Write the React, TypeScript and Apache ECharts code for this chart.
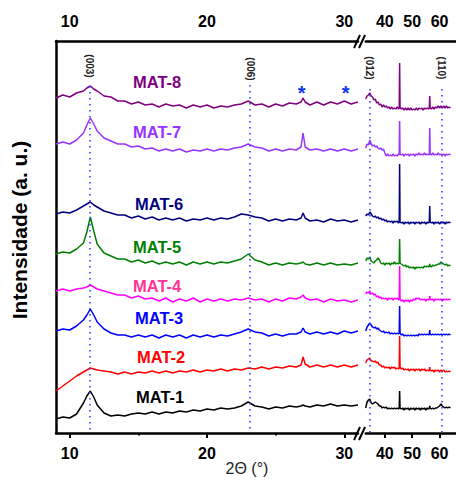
import { useEffect, useRef } from "react";
import * as echarts from "echarts";

// 2θ sampling positions (degrees)
const leftX = [9, 9.5, 10, 10.5, 11, 11.25, 11.5, 11.75, 12, 12.5, 13, 13.5, 14, 14.5, 15, 15.5, 16, 16.5, 17, 17.5, 18, 18.5, 19, 19.5, 20, 20.5, 21, 21.5, 22, 22.5, 23, 23.5, 24, 24.5, 25, 25.5, 26, 26.5, 26.85, 27, 27.15, 27.5, 28, 28.5, 29, 29.5, 30, 30.5, 31];
const rightX = [33, 33.5, 34, 34.5, 35, 35.5, 36, 36.5, 37, 37.5, 38, 38.5, 39, 39.5, 40, 40.5, 41, 41.5, 42, 42.5, 43, 43.5, 44, 44.5, 45, 45.25, 45.4, 45.55, 46, 46.5, 47, 47.5, 48, 48.5, 49, 49.5, 50, 50.5, 51, 51.5, 52, 52.5, 53, 53.5, 54, 54.5, 55, 55.5, 56, 56.25, 56.4, 56.55, 57, 57.5, 58, 58.5, 59, 59.5, 60, 60.5, 61, 61.5, 62, 62.5, 63, 63.5, 64];

// Stacked intensities (a.u., with vertical offsets) – left segment (9–31°)
const mat8L = [335, 338, 336, 340, 342, 345, 347, 344, 342, 337, 336, 332, 332, 329, 331, 328, 329, 326, 329, 327, 328, 325, 328, 326, 328, 325, 327, 326, 328, 329, 332, 328, 329, 326, 329, 327, 330, 329, 331, 335, 331, 328, 331, 328, 331, 329, 332, 329, 331];
const mat7L = [289, 291, 289, 293, 300, 308, 315, 309, 302, 295, 292, 289, 289, 286, 287, 284, 285, 282, 284, 282, 284, 281, 283, 282, 284, 282, 284, 283, 285, 286, 289, 286, 285, 282, 284, 282, 284, 283, 286, 300, 286, 283, 284, 282, 284, 282, 284, 282, 284];
const mat6L = [219, 221, 220, 223, 227, 229, 231, 228, 226, 222, 220, 218, 218, 215, 217, 214, 216, 213, 215, 213, 215, 212, 214, 213, 215, 213, 215, 214, 216, 219, 218, 216, 215, 212, 214, 212, 214, 213, 215, 220, 215, 212, 213, 211, 214, 212, 213, 211, 213];
const mat5L = [179, 181, 180, 184, 190, 201, 216, 202, 189, 180, 177, 174, 174, 171, 173, 170, 172, 169, 171, 169, 171, 168, 171, 169, 171, 169, 171, 170, 172, 174, 179, 173, 171, 168, 170, 168, 170, 169, 170, 171, 169, 168, 170, 168, 170, 168, 169, 168, 170];
const mat4L = [142, 144, 142, 144, 145, 146, 148, 146, 144, 142, 140, 138, 138, 135, 137, 134, 135, 132, 135, 131, 134, 132, 135, 131, 134, 132, 134, 132, 134, 133, 135, 133, 134, 131, 134, 132, 135, 134, 136, 138, 135, 133, 134, 131, 134, 132, 133, 131, 133];
const mat3L = [102, 104, 103, 107, 113, 118, 124, 118, 111, 104, 100, 98, 98, 96, 98, 96, 98, 95, 98, 96, 98, 95, 98, 96, 98, 96, 98, 97, 99, 101, 104, 101, 100, 97, 99, 97, 99, 99, 101, 105, 101, 99, 101, 99, 101, 99, 102, 100, 102];
const mat2L = [42, 47, 52, 57, 61, 63, 65, 64, 63, 62, 61, 59, 61, 59, 61, 60, 62, 60, 62, 60, 62, 61, 63, 61, 63, 62, 64, 62, 64, 63, 65, 64, 66, 64, 66, 65, 67, 66, 68, 76, 69, 66, 68, 66, 68, 66, 68, 66, 68];
const mat1L = [14, 16, 15, 19, 30, 37, 42, 36, 28, 20, 17, 18, 17, 19, 20, 19, 21, 19, 21, 20, 22, 21, 23, 22, 24, 23, 25, 24, 25, 27, 31, 27, 26, 24, 26, 25, 27, 26, 27, 28, 27, 26, 28, 27, 29, 27, 28, 27, 28];

// Right segment (33–64°)
const mat8R = [334, 337, 338, 340, 337, 336, 333, 334, 330, 331, 328, 329, 326, 328, 326, 327, 325, 326, 324, 326, 324, 325, 324, 326, 324, 325, 370, 326, 324, 325, 323, 325, 323, 325, 323, 325, 323, 324, 323, 325, 323, 325, 324, 325, 323, 325, 324, 325, 324, 325, 337, 325, 324, 326, 324, 326, 325, 327, 325, 327, 325, 327, 325, 327, 325, 326, 325];
const mat7R = [285, 289, 288, 293, 289, 287, 288, 286, 287, 285, 284, 285, 283, 284, 280, 277, 279, 277, 278, 277, 279, 277, 278, 277, 279, 278, 312, 279, 278, 279, 277, 279, 278, 279, 277, 279, 278, 279, 277, 279, 278, 280, 278, 279, 278, 280, 278, 279, 278, 279, 305, 279, 278, 280, 278, 279, 278, 280, 278, 279, 278, 279, 277, 279, 278, 279, 278];
const mat6R = [217, 219, 218, 221, 219, 217, 216, 217, 215, 216, 214, 215, 213, 214, 212, 213, 211, 212, 211, 212, 210, 212, 211, 212, 210, 211, 269, 211, 210, 211, 209, 211, 210, 211, 209, 211, 210, 211, 209, 211, 210, 211, 209, 211, 210, 211, 209, 211, 210, 211, 227, 211, 210, 211, 209, 211, 210, 211, 209, 211, 210, 211, 209, 211, 210, 211, 210];
const mat5R = [172, 175, 174, 176, 172, 171, 170, 172, 173, 175, 173, 170, 169, 170, 168, 170, 169, 170, 168, 170, 169, 171, 169, 170, 169, 170, 194, 170, 169, 168, 167, 168, 166, 167, 165, 166, 165, 166, 164, 166, 165, 166, 165, 166, 165, 167, 166, 167, 166, 167, 169, 167, 166, 168, 167, 168, 168, 169, 169, 171, 170, 169, 168, 169, 167, 168, 167];
const mat4R = [139, 141, 140, 142, 139, 140, 138, 139, 136, 137, 135, 136, 134, 135, 134, 135, 133, 135, 134, 135, 133, 135, 134, 135, 133, 134, 167, 134, 132, 133, 131, 133, 132, 133, 131, 133, 132, 134, 133, 135, 134, 135, 133, 134, 133, 134, 132, 134, 133, 134, 137, 134, 133, 134, 132, 134, 133, 134, 133, 134, 132, 134, 133, 134, 133, 134, 133];
const mat3R = [102, 106, 108, 110, 108, 106, 105, 106, 104, 105, 103, 102, 101, 102, 100, 101, 100, 101, 99, 100, 99, 100, 99, 100, 99, 100, 127, 100, 98, 99, 97, 98, 97, 98, 97, 98, 97, 98, 97, 98, 97, 99, 98, 99, 98, 99, 98, 99, 98, 99, 103, 99, 98, 99, 98, 99, 98, 99, 98, 99, 98, 99, 98, 99, 98, 99, 98];
const mat2R = [70, 73, 74, 75, 72, 72, 71, 72, 70, 71, 68, 68, 66, 67, 65, 66, 65, 66, 64, 66, 65, 66, 64, 65, 64, 65, 97, 66, 64, 65, 63, 64, 63, 64, 62, 64, 63, 64, 62, 64, 63, 64, 62, 64, 63, 64, 62, 63, 62, 63, 66, 63, 62, 63, 61, 63, 62, 63, 61, 63, 62, 63, 61, 62, 61, 62, 61];
const mat1R = [25, 31, 33, 34, 30, 29, 30, 31, 30, 29, 27, 27, 25, 26, 25, 26, 24, 25, 24, 25, 24, 25, 24, 25, 24, 25, 42, 25, 24, 25, 23, 25, 24, 25, 23, 25, 24, 25, 23, 25, 24, 25, 23, 25, 24, 25, 23, 25, 24, 25, 27, 25, 24, 25, 24, 25, 25, 26, 27, 29, 27, 26, 25, 26, 25, 26, 25];

const sampleNames = ["MAT-1", "MAT-2", "MAT-3", "MAT-4", "MAT-5", "MAT-6", "MAT-7", "MAT-8"];
const leftSets = [mat1L, mat2L, mat3L, mat4L, mat5L, mat6L, mat7L, mat8L];
const rightSets = [mat1R, mat2R, mat3R, mat4R, mat5R, mat6R, mat7R, mat8R];
const lineColors = ["#000000", "#ff0000", "#0000ff", "#ff00ff", "#008000", "#000080", "#9933ff", "#800080"];
const labelColors = ["#000000", "#ff0000", "#0000ff", "#ff3399", "#008000", "#000080", "#9933ff", "#800080"];
const labelPos = [[136, 397], [137, 357], [135, 318], [133, 286], [133, 247], [135, 204], [133, 132], [133, 82]];

const peakLabels = ["(003)", "(006)", "(012)", "(110)"];
const peakPositions = [11.45, 23.1, 34.5, 60.9];
const peakLineTop = [347, 348, 344, 344];
const peakLabelPos = [[89, 66], [250, 69], [369, 68], [441, 68]];

const starPositions = [26.9, 30.1];

const leftTicks = [10, 20, 30];
const leftMinorTicks = [15, 25];
const rightTicks = [40, 50, 60];

const FONT = '"Liberation Sans", Arial, Helvetica, sans-serif';

export default function App() {
  const ref = useRef<HTMLDivElement>(null);
  useEffect(() => {
    if (!ref.current) return;
    const chart = echarts.init(ref.current, undefined, { renderer: "svg" });

    const GL = 56, GT = 41, GH = 392;
    const leftMin = 9, leftMax = 31, leftW = 302;
    const rightMin = 33, rightMax = 66, rightLeft = 365.7, rightW = 96;

    const axisLineStyle = { color: "#000", width: 2.5 };
    const labelStyle = { color: "#000", fontWeight: "bold" as const, fontSize: 16, fontFamily: FONT };

    const xAxes: any[] = [
      { gridIndex: 0, type: "value", position: "bottom", min: leftMin, max: leftMax,
        axisLine: { show: true, lineStyle: axisLineStyle },
        axisTick: { show: true, length: 5, lineStyle: { color: "#000", width: 2 }, customValues: leftTicks },
        axisLabel: { ...labelStyle, margin: 12, customValues: leftTicks }, splitLine: { show: false } },
      { gridIndex: 1, type: "value", position: "bottom", min: rightMin, max: rightMax,
        axisLine: { show: true, lineStyle: axisLineStyle },
        axisTick: { show: true, length: 5, lineStyle: { color: "#000", width: 2 }, customValues: rightTicks },
        axisLabel: { ...labelStyle, margin: 12, customValues: rightTicks }, splitLine: { show: false } },
      { gridIndex: 0, type: "value", position: "top", min: leftMin, max: leftMax,
        axisLine: { show: true, lineStyle: axisLineStyle }, axisTick: { show: false },
        axisLabel: { ...labelStyle, margin: 12, customValues: leftTicks }, splitLine: { show: false } },
      { gridIndex: 1, type: "value", position: "top", min: rightMin, max: rightMax,
        axisLine: { show: true, lineStyle: axisLineStyle }, axisTick: { show: false },
        axisLabel: { ...labelStyle, margin: 12, customValues: rightTicks }, splitLine: { show: false } },
      { gridIndex: 0, type: "value", position: "bottom", min: leftMin, max: leftMax,
        axisLine: { show: false },
        axisTick: { show: true, length: 2.5, lineStyle: { color: "#000", width: 2 }, customValues: leftMinorTicks },
        axisLabel: { show: false }, splitLine: { show: false } },
    ];

    const yAxes: any[] = [
      { gridIndex: 0, type: "value", min: 0, max: GH, axisLine: { show: true, lineStyle: axisLineStyle },
        axisTick: { show: false }, axisLabel: { show: false }, splitLine: { show: false } },
      { gridIndex: 1, type: "value", min: 0, max: GH, axisLine: { show: false },
        axisTick: { show: false }, axisLabel: { show: false }, splitLine: { show: false } },
    ];

    const dotted = { color: "#3344ff", width: 1.6, type: [1.6, 4.4] as any };
    const series: any[] = [];
    sampleNames.forEach((name, i) => {
      const left: any = {
        name, type: "line", xAxisIndex: 0, yAxisIndex: 0, showSymbol: false, symbol: "none",
        data: leftX.map((x, k) => [x, leftSets[i][k]]),
        lineStyle: { color: lineColors[i], width: 1.5 }, z: 3,
      };
      const right: any = {
        name, type: "line", xAxisIndex: 1, yAxisIndex: 1, showSymbol: false, symbol: "none",
        data: rightX.map((x, k) => [x, rightSets[i][k]]),
        lineStyle: { color: lineColors[i], width: 1.5 }, z: 3,
      };
      if (i === 0) {
        left.markLine = {
          silent: true, symbol: ["none", "none"], label: { show: false }, lineStyle: dotted,
          data: [0, 1].map((p) => [{ coord: [peakPositions[p], peakLineTop[p]] }, { coord: [peakPositions[p], 0] }]),
        };
        right.markLine = {
          silent: true, symbol: ["none", "none"], label: { show: false }, lineStyle: dotted,
          data: [2, 3].map((p) => [{ coord: [peakPositions[p], peakLineTop[p]] }, { coord: [peakPositions[p], 0] }]),
        };
      }
      series.push(left, right);
    });

    const pxLeft = (v: number) => GL + ((v - leftMin) / (leftMax - leftMin)) * leftW;

    const graphics: any[] = [];
    sampleNames.forEach((name, i) => {
      graphics.push({
        type: "text", x: labelPos[i][0], y: labelPos[i][1], z: 10,
        style: { text: name, fill: labelColors[i], font: `bold 16.5px ${FONT}`, textAlign: "left", textVerticalAlign: "middle" },
      });
    });
    peakLabels.forEach((t, i) => {
      graphics.push({
        type: "text", x: peakLabelPos[i][0], y: peakLabelPos[i][1], rotation: -Math.PI / 2, z: 10,
        style: { text: t, fill: "#222", font: `bold 10px ${FONT}`, textAlign: "center", textVerticalAlign: "middle" },
      });
    });
    starPositions.forEach((s) => {
      graphics.push({
        type: "text", x: pxLeft(s), y: 93, z: 10,
        style: { text: "*", fill: "#1133ee", font: `bold 20px ${FONT}`, textAlign: "center", textVerticalAlign: "middle" },
      });
    });
    graphics.push({
      type: "text", x: 247, y: 468, z: 10,
      style: { text: "2Θ (°)", fill: "#222", font: `16px ${FONT}`, textAlign: "center", textVerticalAlign: "middle" },
    });
    graphics.push({
      type: "text", x: 19, y: 230, rotation: Math.PI / 2, z: 10,
      style: { text: "Intensidade (a. u.)", fill: "#000", font: `bold 21px ${FONT}`, textAlign: "center", textVerticalAlign: "middle" },
    });
    // axis break marks
    [[354, 48, 360, 35], [359, 48, 365, 35], [354, 440, 360, 427], [359, 440, 365, 427]].forEach((l) => {
      graphics.push({
        type: "line", z: 10, shape: { x1: l[0], y1: l[1], x2: l[2], y2: l[3] },
        style: { stroke: "#000", lineWidth: 2 },
      });
    });

    chart.setOption({
      animation: false,
      backgroundColor: "#ffffff",
      grid: [
        { left: GL, top: GT, width: leftW, height: GH, containLabel: false },
        { left: rightLeft, top: GT, width: rightW, height: GH, containLabel: false },
      ],
      xAxis: xAxes,
      yAxis: yAxes,
      series,
      graphic: graphics,
    });
    return () => chart.dispose();
  }, []);
  return (
    <div
      ref={ref}
      style={{ position: "fixed", left: 0, top: 0, width: 456, height: 482, background: "#fff" }}
    />
  );
}
